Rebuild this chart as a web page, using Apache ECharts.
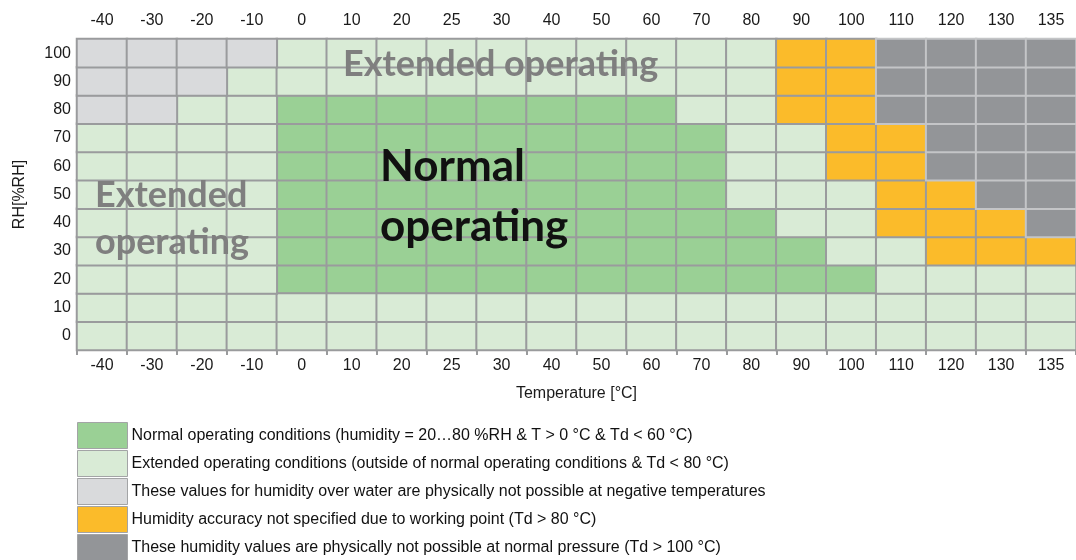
<!DOCTYPE html>
<html lang="en">
<head>
    <meta charset="UTF-8"/>
    <title>Operating range</title>
    <script src="https://cdn.jsdelivr.net/npm/echarts@6/dist/echarts.min.js"></script>
</head>
<body style="margin:0">

<div id="main" style="width:1076px;height:560px;"></div>

<script type="text/javascript">
    // x categories (temperature) and y categories (humidity)
    var temps = ['-40', '-30', '-20', '-10', '0', '10', '20', '25', '30', '40',
                 '50', '60', '70', '80', '90', '100', '110', '120', '130', '135'];
    var humidity = ['0', '10', '20', '30', '40', '50', '60', '70', '80', '90', '100'];

    // zone code for every cell, one row per humidity step (0 %RH first)
    // 1 normal, 2 extended, 3 impossible below 0 °C, 4 accuracy not specified, 5 impossible
    var zoneRows = [
        [2,2,2,2,2,2,2,2,2,2,2,2,2,2,2,2,2,2,2,2],
        [2,2,2,2,2,2,2,2,2,2,2,2,2,2,2,2,2,2,2,2],
        [2,2,2,2,1,1,1,1,1,1,1,1,1,1,1,1,2,2,2,2],
        [2,2,2,2,1,1,1,1,1,1,1,1,1,1,1,2,2,4,4,4],
        [2,2,2,2,1,1,1,1,1,1,1,1,1,1,2,2,4,4,4,5],
        [2,2,2,2,1,1,1,1,1,1,1,1,1,2,2,2,4,4,5,5],
        [2,2,2,2,1,1,1,1,1,1,1,1,1,2,2,4,4,5,5,5],
        [2,2,2,2,1,1,1,1,1,1,1,1,1,2,2,4,4,5,5,5],
        [3,3,2,2,1,1,1,1,1,1,1,1,2,2,4,4,5,5,5,5],
        [3,3,3,2,2,2,2,2,2,2,2,2,2,2,4,4,5,5,5,5],
        [3,3,3,3,2,2,2,2,2,2,2,2,2,2,4,4,5,5,5,5]
    ];

    var zoneNames = [
        'Normal operating conditions (humidity = 20\u202680 %RH & T > 0 \u00b0C & Td < 60 \u00b0C)',
        'Extended operating conditions (outside of normal operating conditions & Td < 80 \u00b0C)',
        'These values for humidity over water are physically not possible at negative temperatures',
        'Humidity accuracy not specified due to working point (Td > 80 \u00b0C)',
        'These humidity values are physically not possible at normal pressure (Td > 100 \u00b0C)'
    ];
    var zoneColors = ['#9ad095', '#d9ebd6', '#d9dadc', '#fbbb2a', '#939598'];
    var zoneBorders = ['#9a9b9d', '#9a9b9d', '#9a9b9d', '#9a9b9d', '#c4c5c7'];

    var myChart = echarts.init(document.getElementById('main'));

    var series = [];
    for (var z = 0; z < zoneNames.length; z++) {
        var cells = [];
        for (var r = 0; r < zoneRows.length; r++) {
            for (var c = 0; c < temps.length; c++) {
                if (zoneRows[r][c] === z + 1) cells.push([c, r, z + 1]);
            }
        }
        series.push({
            name: zoneNames[z],
            type: 'heatmap',
            data: cells,
            itemStyle: { color: zoneColors[z], borderColor: zoneBorders[z], borderWidth: 2 },
            emphasis: { disabled: true },
            silent: true
        });
    }

    var axisLabelStyle = { color: '#1a1a1a', fontSize: 16, fontFamily: 'Liberation Sans' };

    var option = {
        animation: false,
        textStyle: { fontFamily: 'Liberation Sans' },
        color: zoneColors,
        grid: { left: 77, top: 39, width: 1000, height: 311 },
        legend: {
            orient: 'vertical',
            left: 77,
            top: 422,
            height: 160,
            padding: 0,
            itemWidth: 50,
            itemHeight: 26,
            itemGap: 1,
            icon: 'rect',
            selectedMode: false,
            itemStyle: { borderWidth: 1, borderColor: '#a3a4a6' },
            textStyle: { color: '#111111', fontSize: 16, lineHeight: 16, fontFamily: 'Liberation Sans', padding: [8, 0, 0, -1] },
            data: zoneNames
        },
        xAxis: [{
            type: 'category',
            data: temps,
            position: 'bottom',
            name: 'Temperature [\u00b0C]',
            nameLocation: 'middle',
            nameGap: 36,
            nameTextStyle: axisLabelStyle,
            axisLine: { lineStyle: { color: '#9a9b9d', width: 2 } },
            axisTick: { show: true, length: 5, lineStyle: { color: '#9a9b9d', width: 2 } },
            axisLabel: Object.assign({ margin: 8 }, axisLabelStyle),
            splitLine: { show: false }
        }, {
            type: 'category',
            data: temps,
            position: 'top',
            axisLine: { show: false },
            axisTick: { show: false },
            axisLabel: Object.assign({ margin: 10 }, axisLabelStyle),
            splitLine: { show: false }
        }],
        yAxis: {
            type: 'category',
            data: humidity,
            name: 'RH[%RH]',
            nameLocation: 'middle',
            nameRotate: 90,
            nameGap: 49,
            nameTextStyle: axisLabelStyle,
            axisLine: { show: false },
            axisTick: { show: false },
            axisLabel: Object.assign({ margin: 6 }, axisLabelStyle),
            splitLine: { show: false }
        },
        graphic: [
            {
                type: 'text', left: 343, top: 46, z: 100,
                style: { text: 'Extended operating', fill: '#7f7f7f', font: 'bold 36px Lato' }
            },
            {
                type: 'text', left: 95, top: 172, z: 100,
                style: { text: 'Extended\noperating', fill: '#7f7f7f', font: 'bold 36px Lato', lineHeight: 47 }
            },
            {
                type: 'text', left: 380, top: 137, z: 100,
                style: { text: 'Normal\noperating', fill: '#111111', font: 'bold 44px Lato', lineHeight: 60 }
            }
        ],
        series: series
    };

    myChart.setOption(option);
</script>
</body>
</html>
